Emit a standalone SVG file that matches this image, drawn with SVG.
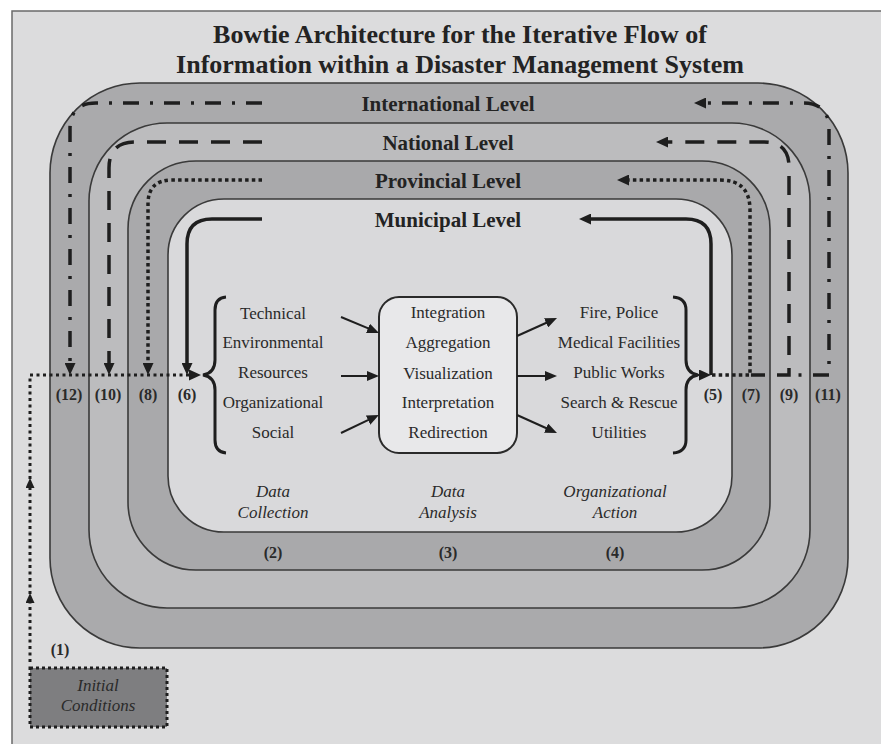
<svg xmlns="http://www.w3.org/2000/svg" width="881" height="744" viewBox="0 0 881 744">
  <style>
    .title { font-family: "Liberation Serif", "Times New Roman", serif; font-weight: bold; font-size: 26px; fill: #232323; text-anchor: middle; }
    .level { font-family: "Liberation Serif", "Times New Roman", serif; font-weight: bold; font-size: 21px; fill: #232323; text-anchor: middle; }
    .item { font-family: "Liberation Serif", "Times New Roman", serif; font-size: 17px; fill: #2a2a2a; text-anchor: middle; }
    .stage { font-family: "Liberation Serif", "Times New Roman", serif; font-style: italic; font-size: 17px; fill: #2a2a2a; text-anchor: middle; }
    .num { font-family: "Liberation Serif", "Times New Roman", serif; font-weight: bold; font-size: 16px; fill: #2a2a2a; text-anchor: middle; }
    .band { stroke: #3a3a3a; stroke-width: 1.6; }
    .flow { fill: none; stroke: #1e1e1e; stroke-width: 3.5; }
    .intl { stroke-dasharray: 16 11 3 11; }
    .natl { stroke-dasharray: 19 13; }
    .prov { stroke-dasharray: 3.5 3.2; }
    .feed { fill: none; stroke: #1e1e1e; stroke-width: 3; stroke-dasharray: 3 3.5; }
    .brace { fill: none; stroke: #1e1e1e; stroke-width: 3; }
    .link { fill: none; stroke: #1e1e1e; stroke-width: 2; }
  </style>
  <defs>
    <marker id="arrow" markerUnits="userSpaceOnUse" markerWidth="12" markerHeight="11" refX="1" refY="5.5" orient="auto">
      <path d="M0,0 L12,5.5 L0,11 z" fill="#1e1e1e"/>
    </marker>
    <marker id="arrowS" markerUnits="userSpaceOnUse" markerWidth="10" markerHeight="9" refX="1" refY="4.5" orient="auto">
      <path d="M0,0 L10,4.5 L0,9 z" fill="#1e1e1e"/>
    </marker>
    <marker id="arrowM" markerUnits="userSpaceOnUse" markerWidth="12" markerHeight="10" refX="1" refY="5" orient="auto">
      <path d="M0,0 L12,5 L0,10 z" fill="#1e1e1e"/>
    </marker>
  </defs>

  <!-- page -->
  <rect x="0" y="0" width="881" height="744" fill="#ffffff"/>
  <rect x="12" y="11" width="880" height="745" fill="#dcdcdd" stroke="#6a6a6a" stroke-width="1.5"/>

  <g id="title">
    <text class="title" x="460" y="43">Bowtie Architecture for the Iterative Flow of</text>
    <text class="title" x="460" y="73">Information within a Disaster Management System</text>
  </g>

  <!-- nested levels -->
  <g id="international-level">
    <rect class="band" x="50" y="83" width="798" height="565" rx="90" fill="#aaaaac"/>
    <text class="level" x="448" y="111">International Level</text>
  </g>
  <g id="national-level">
    <rect class="band" x="89" y="123" width="721" height="485" rx="78" fill="#bcbcbe"/>
    <text class="level" x="448" y="150">National Level</text>
  </g>
  <g id="provincial-level">
    <rect class="band" x="128" y="161" width="642" height="409" rx="68" fill="#a9a9ab"/>
    <text class="level" x="448" y="188">Provincial Level</text>
  </g>
  <g id="municipal-level">
    <rect class="band" x="168" y="199" width="564" height="333" rx="56" fill="#d9d9db"/>
    <text class="level" x="448" y="227">Municipal Level</text>
  </g>

  <g id="data-collection">
    <text class="item" x="273" y="319">Technical</text>
    <text class="item" x="273" y="348">Environmental</text>
    <text class="item" x="273" y="378">Resources</text>
    <text class="item" x="273" y="408">Organizational</text>
    <text class="item" x="273" y="438">Social</text>
    <text class="stage" x="273" y="497">Data</text>
    <text class="stage" x="273" y="518">Collection</text>
    <text class="num" x="273" y="558">(2)</text>
  </g>

  <g id="data-analysis">
    <rect x="379" y="297" width="138" height="156" rx="20" fill="#e8e8ea" stroke="#2a2a2a" stroke-width="2"/>
    <text class="item" x="448" y="318">Integration</text>
    <text class="item" x="448" y="348">Aggregation</text>
    <text class="item" x="448" y="379">Visualization</text>
    <text class="item" x="448" y="408">Interpretation</text>
    <text class="item" x="448" y="438">Redirection</text>
    <text class="stage" x="448" y="497">Data</text>
    <text class="stage" x="448" y="518">Analysis</text>
    <text class="num" x="448" y="558">(3)</text>
  </g>

  <g id="organizational-action">
    <text class="item" x="619" y="318">Fire, Police</text>
    <text class="item" x="619" y="348">Medical Facilities</text>
    <text class="item" x="619" y="378">Public Works</text>
    <text class="item" x="619" y="408">Search &amp; Rescue</text>
    <text class="item" x="619" y="438">Utilities</text>
    <text class="stage" x="615" y="497">Organizational</text>
    <text class="stage" x="615" y="518">Action</text>
    <text class="num" x="615" y="558">(4)</text>
  </g>

  <g id="initial-conditions">
    <rect x="30" y="668" width="137" height="59" fill="#7e7e80" stroke="#1e1e1e" stroke-width="3" stroke-dasharray="3 3"/>
    <text class="stage" x="98" y="691" fill="#333">Initial</text>
    <text class="stage" x="98" y="711" fill="#333">Conditions</text>
    <text class="num" x="60" y="655">(1)</text>
  </g>

  <!-- step numbers along the feedback row -->
  <g id="step-labels">
    <text class="num" x="69" y="400">(12)</text>
    <text class="num" x="108" y="400">(10)</text>
    <text class="num" x="148" y="400">(8)</text>
    <text class="num" x="187" y="400">(6)</text>
    <text class="num" x="713" y="400">(5)</text>
    <text class="num" x="751" y="400">(7)</text>
    <text class="num" x="789" y="400">(9)</text>
    <text class="num" x="828" y="400">(11)</text>
  </g>

  <g id="connectors">
    <!-- braces -->
    <path class="brace" d="M226 297 Q215 298 215 310 V360 Q215 373 203 375 Q215 377 215 390 V440 Q215 452 226 453"/>
    <path class="brace" d="M673 297 Q686 298 686 310 V360 Q686 373 698 375 Q686 377 686 390 V440 Q686 452 673 453"/>

    <!-- initial conditions into collection -->
    <path class="feed" d="M30 662 V602" marker-end="url(#arrowS)"/>
    <path class="feed" d="M30 594 V487" marker-end="url(#arrowS)"/>
    <path class="feed" d="M30 479 V375 H190" marker-end="url(#arrow)"/>

    <!-- collection to analysis -->
    <path class="link" d="M341 317 L368.9 328.7" marker-end="url(#arrowM)"/>
    <path class="link" d="M341 376 L368 376" marker-end="url(#arrowM)"/>
    <path class="link" d="M341 433 L369 419.7" marker-end="url(#arrowM)"/>
    <!-- analysis to action -->
    <path class="link" d="M517 336 L547 322.5" marker-end="url(#arrowM)"/>
    <path class="link" d="M517 376 L546 376" marker-end="url(#arrowM)"/>
    <path class="link" d="M517 415 L547 428.5" marker-end="url(#arrowM)"/>

    <!-- action out to (5) -->
    <path class="link" stroke-width="3" d="M697 375 H700" marker-end="url(#arrow)"/>

    <!-- municipal loop -->
    <path class="flow" d="M711 375 V244 Q711 219 686 219 H590" marker-end="url(#arrow)"/>
    <path class="flow" d="M262 219 H212 Q187 219 187 244 V364" marker-end="url(#arrow)"/>

    <!-- provincial loop -->
    <path class="flow prov" d="M712 375 H750 V210 Q750 180 720 180 H628" marker-end="url(#arrow)"/>
    <path class="flow prov" d="M262 180 H172 Q148 180 148 204 V364" marker-end="url(#arrow)"/>

    <!-- national loop -->
    <path class="flow" d="M751 375 H765"/>
    <path class="flow natl" d="M777 375 H789 V167 Q789 142 764 142 H667" marker-end="url(#arrow)"/>
    <path class="flow natl" d="M262 142 H135 Q109 142 109 168 V364" marker-end="url(#arrow)"/>

    <!-- international loop -->
    <path class="flow" d="M798.5 375 H801.5"/>
    <path class="flow intl" d="M813 375 H829 V129 Q829 103 803 103 H705" marker-end="url(#arrow)"/>
    <path class="flow intl" d="M262 103 H96 Q70 103 70 129 V364" marker-end="url(#arrow)"/>
  </g>
</svg>
